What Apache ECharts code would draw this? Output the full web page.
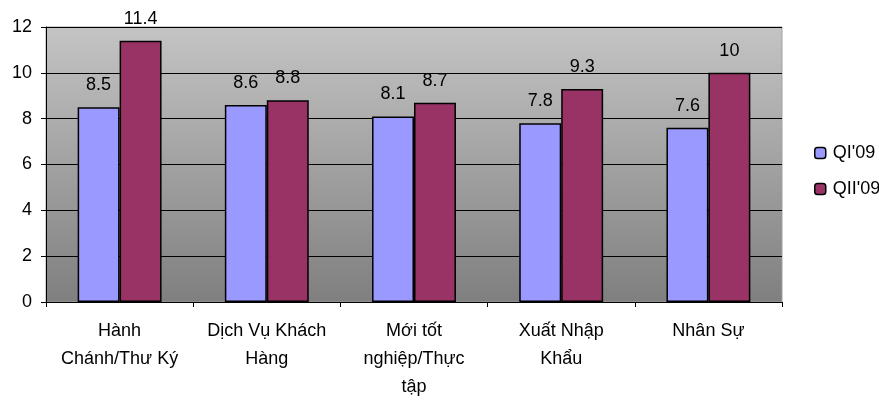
<!DOCTYPE html>
<html><head><meta charset="utf-8">
<script src="https://cdn.jsdelivr.net/npm/echarts@6/dist/echarts.min.js"></script>
<style>html,body{margin:0;padding:0;background:#fff}#c{width:879px;height:402px}</style>
</head><body><div id="c"></div>
<script>
var categories = ["Hành\nChánh/Thư Ký", "Dịch Vụ Khách\nHàng", "Mới tốt\nnghiệp/Thực\ntập", "Xuất Nhập\nKhẩu", "Nhân Sự"];
var seriesNames = ["QI'09", "QII'09"];
var q1 = [8.5, 8.6, 8.1, 7.8, 7.6];
var q2 = [11.4, 8.8, 8.7, 9.3, 10];
var yTicks = {min: 0, max: 12, interval: 2};

var chart = echarts.init(document.getElementById('c'));
var font = 'Liberation Sans, Arial, sans-serif';
function mkSeries(name, data, color) {
  return {
    name: name, type: 'bar', data: data, barGap: '0%', barCategoryGap: '43%',
    itemStyle: {color: color, borderColor: '#000', borderWidth: 1.5},
    label: {show: true, position: 'top', distance: 13, color: '#000', fontSize: 18, fontFamily: font},
    emphasis: {disabled: true}
  };
}
chart.setOption({
  animation: false,
  textStyle: {fontFamily: font},
  grid: {left: 46, right: 97, top: 27, bottom: 100, show: true, borderColor: '#a0a0a0', borderWidth: 1,
    backgroundColor: new echarts.graphic.LinearGradient(0, 0, 0, 1, [{offset: 0, color: '#c4c4c4'}, {offset: 1, color: '#7f7f7f'}])},
  legend: {orient: 'vertical', left: 809, top: 139, itemWidth: 11, itemHeight: 11, itemGap: 18,
    data: seriesNames, textStyle: {fontSize: 18, color: '#000', fontFamily: font, padding: [0, 0, 0, 2]},
    itemStyle: {borderColor: '#000', borderWidth: 1.5}},
  xAxis: {type: 'category', data: categories,
    axisLine: {lineStyle: {color: '#000', width: 1}},
    axisTick: {show: true, length: 5, lineStyle: {color: '#000'}},
    axisLabel: {color: '#000', fontSize: 18, lineHeight: 28, margin: 15, interval: 0, fontFamily: font}},
  yAxis: {type: 'value', min: yTicks.min, max: yTicks.max, interval: yTicks.interval,
    axisLine: {show: true, lineStyle: {color: '#000', width: 1}},
    axisTick: {show: true, length: 5, lineStyle: {color: '#000'}},
    splitLine: {lineStyle: {color: '#000', width: 1}},
    axisLabel: {color: '#000', fontSize: 18, margin: 14, fontFamily: font}},
  series: [mkSeries(seriesNames[0], q1, '#9999ff'), mkSeries(seriesNames[1], q2, '#993366')]
});
</script></body></html>
